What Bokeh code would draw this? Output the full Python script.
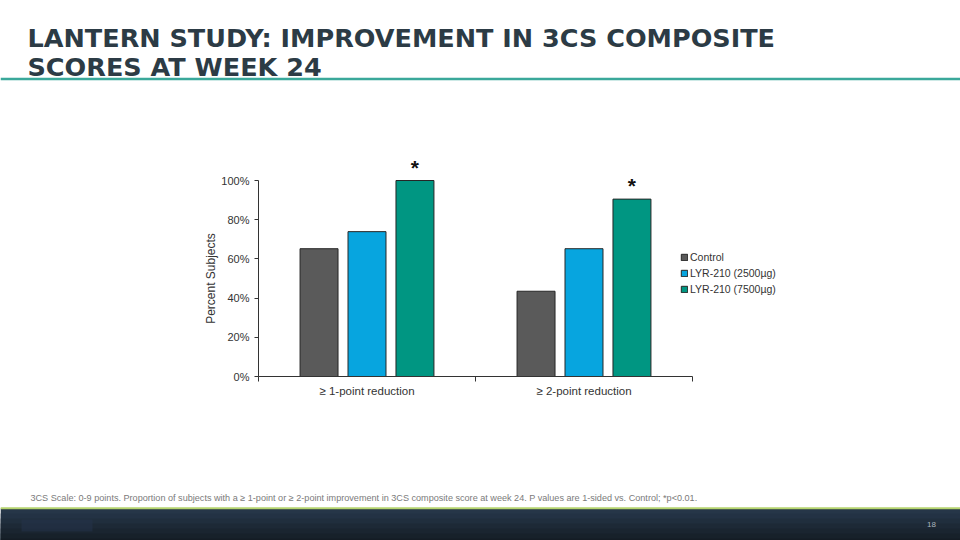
from bokeh.plotting import figure
from bokeh.models import (ColumnDataSource, FixedTicker, Legend, LegendItem, LabelSet,
                          Range1d, PrintfTickFormatter)
from bokeh.embed import file_html
from bokeh.resources import INLINE
from bokeh.core.properties import value

# ---------------- data ----------------
title_lines = ["LANTERN STUDY: IMPROVEMENT IN 3CS COMPOSITE", "SCORES AT WEEK 24"]
categories = ["\u2265 1-point reduction", "\u2265 2-point reduction"]
series = ["Control", "LYR-210 (2500\u00b5g)", "LYR-210 (7500\u00b5g)"]
control = [65.2, 43.5]
lyr_2500 = [73.9, 65.2]
lyr_7500 = [100.0, 90.5]
significance = ["*", "*"]          # marks on the LYR-210 (7500µg) bars
y_ticks = [0, 20, 40, 60, 80, 100]
y_label = "Percent Subjects"
footnote = ("3CS Scale: 0-9 points. Proportion of subjects with a \u2265 1-point or \u2265 2-point "
            "improvement in 3CS composite score at week 24. P values are 1-sided vs. Control; *p<0.01.")
page_number = "18"

# ---------------- styles / layout ----------------
colors = ["#5a5a5a", "#07a5df", "#009682"]
W, H = 960, 540
FN = "Liberation Sans"
FONT = value(FN)

# pixel placement of the chart axes inside the canvas
AX_L, AX_R = 258, 692        # x of 0 and of the last category boundary
AX_B, AX_T = 376, 180        # y (from top) of 0 % and 100 %
ncat = len(categories)
ymax = y_ticks[-1]
ux = (AX_R - AX_L) / ncat
uy = (AX_B - AX_T) / ymax
x_range = Range1d(-AX_L / ux, ncat + (W - AX_R) / ux)
y_range = Range1d(-(H - AX_B) / uy, ymax + AX_T / uy)

p = figure(width=W, height=H, x_range=x_range, y_range=y_range,
           output_backend="svg", toolbar_location=None, min_border=0)
p.extra_x_ranges = {"px": Range1d(0, W)}
p.extra_y_ranges = {"px": Range1d(H, 0)}
p.outline_line_color = None
p.grid.visible = False
p.background_fill_color = "white"

# ---------------- header ----------------
p.text(x=[27, 27], y=[37, 66], text=title_lines, text_font=value("DejaVu Sans"),
       text_font_style="bold", text_font_size="25.5px", text_color="#2c3b45",
       text_baseline="alphabetic", text_align="left",
       x_range_name="px", y_range_name="px")
p.line(x=[0, W], y=[78.5, 78.5], line_width=2.5, line_color="#3aa89a",
       x_range_name="px", y_range_name="px")

# ---------------- bars ----------------
values = [control, lyr_2500, lyr_7500]
bar_w = 0.175
step = 0.221
items = []
last_src = None
for i, (name, vals) in enumerate(zip(series, values)):
    xs = [g + 0.5 + (i - 1) * step for g in range(ncat)]
    src = ColumnDataSource(dict(x=xs, top=vals))
    r = p.vbar(x="x", top="top", bottom=0, width=bar_w, source=src,
               fill_color=colors[i], line_color="#262626", line_width=1)
    items.append(LegendItem(label=name, renderers=[r]))
    last_src = src

last_src.data["star"] = significance
stars = LabelSet(x="x", y="top", text="star", source=last_src, y_offset=6,
                 text_align="center", text_baseline="alphabetic",
                 text_font_size="21px", text_font_style="bold", text_font=FONT,
                 text_color="#111111")
p.add_layout(stars)

# ---------------- axes ----------------
xa = p.xaxis[0]
xa.fixed_location = 0
xa.bounds = (0, ncat)
xa.ticker = FixedTicker(ticks=[g + 0.5 for g in range(ncat)],
                        minor_ticks=list(range(ncat + 1)))
xa.major_label_overrides = {g + 0.5: c for g, c in enumerate(categories)}
xa.major_tick_line_color = None
xa.major_tick_out = 0
xa.major_tick_in = 0
xa.minor_tick_out = 5
xa.minor_tick_in = 0
xa.minor_tick_line_color = "#333333"
xa.axis_line_color = "#333333"
xa.major_label_standoff = 3
xa.major_label_text_font = FN
xa.major_label_text_font_size = "11.5px"
xa.major_label_text_color = "#333333"

ya = p.yaxis[0]
ya.fixed_location = 0
ya.bounds = (0, ymax)
ya.ticker = FixedTicker(ticks=y_ticks, minor_ticks=[])
ya.formatter = PrintfTickFormatter(format="%d%%")
ya.major_tick_out = 4
ya.major_tick_in = 0
ya.major_tick_line_color = "#333333"
ya.axis_line_color = "#333333"
ya.major_label_standoff = 5
ya.major_label_text_font = FN
ya.major_label_text_font_size = "11px"
ya.major_label_text_color = "#333333"
ya.axis_label = y_label
ya.axis_label_text_font = FN
ya.axis_label_text_font_size = "12px"
ya.axis_label_text_font_style = "normal"
ya.axis_label_text_color = "#333333"
ya.axis_label_standoff = 0

legend = Legend(items=items, location=(680, 245), glyph_width=8, glyph_height=8,
                label_text_font=FN, label_text_font_size="10.5px",
                label_text_color="#333333", label_standoff=2, padding=0, margin=0,
                border_line_color=None, background_fill_alpha=0,
                label_height=13, spacing=3)
p.add_layout(legend)

# ---------------- footer ----------------
p.text(x=[30], y=[497], text=[footnote], text_font=FONT, text_font_size="9.1px",
       text_color="#7a7a7a", text_baseline="middle", text_align="left",
       x_range_name="px", y_range_name="px")
band_colors = ["#263648", "#233244", "#202e3d", "#1d2936", "#1a2530", "#17212a", "#141c24"]
band_top = 508
hstep = round((H - band_top) / len(band_colors))
p.quad(left=0, right=W,
       top=[band_top + k * hstep for k in range(len(band_colors))],
       bottom=H,
       fill_color=band_colors, line_color=None, x_range_name="px", y_range_name="px")
p.quad(left=[0], right=[W], top=[506.8], bottom=[508.8], fill_color="#b5d36e",
       line_color=None, x_range_name="px", y_range_name="px")
p.quad(left=[21], right=[92], top=[519], bottom=[531], fill_color="#24334a",
       fill_alpha=0.55, line_color=None, x_range_name="px", y_range_name="px")
p.text(x=[931], y=[524], text=[page_number], text_font=FONT, text_font_size="8px",
       text_color="#aab3bc", text_baseline="middle", text_align="center",
       x_range_name="px", y_range_name="px")

open("out.html", "w").write(file_html(p, INLINE))
